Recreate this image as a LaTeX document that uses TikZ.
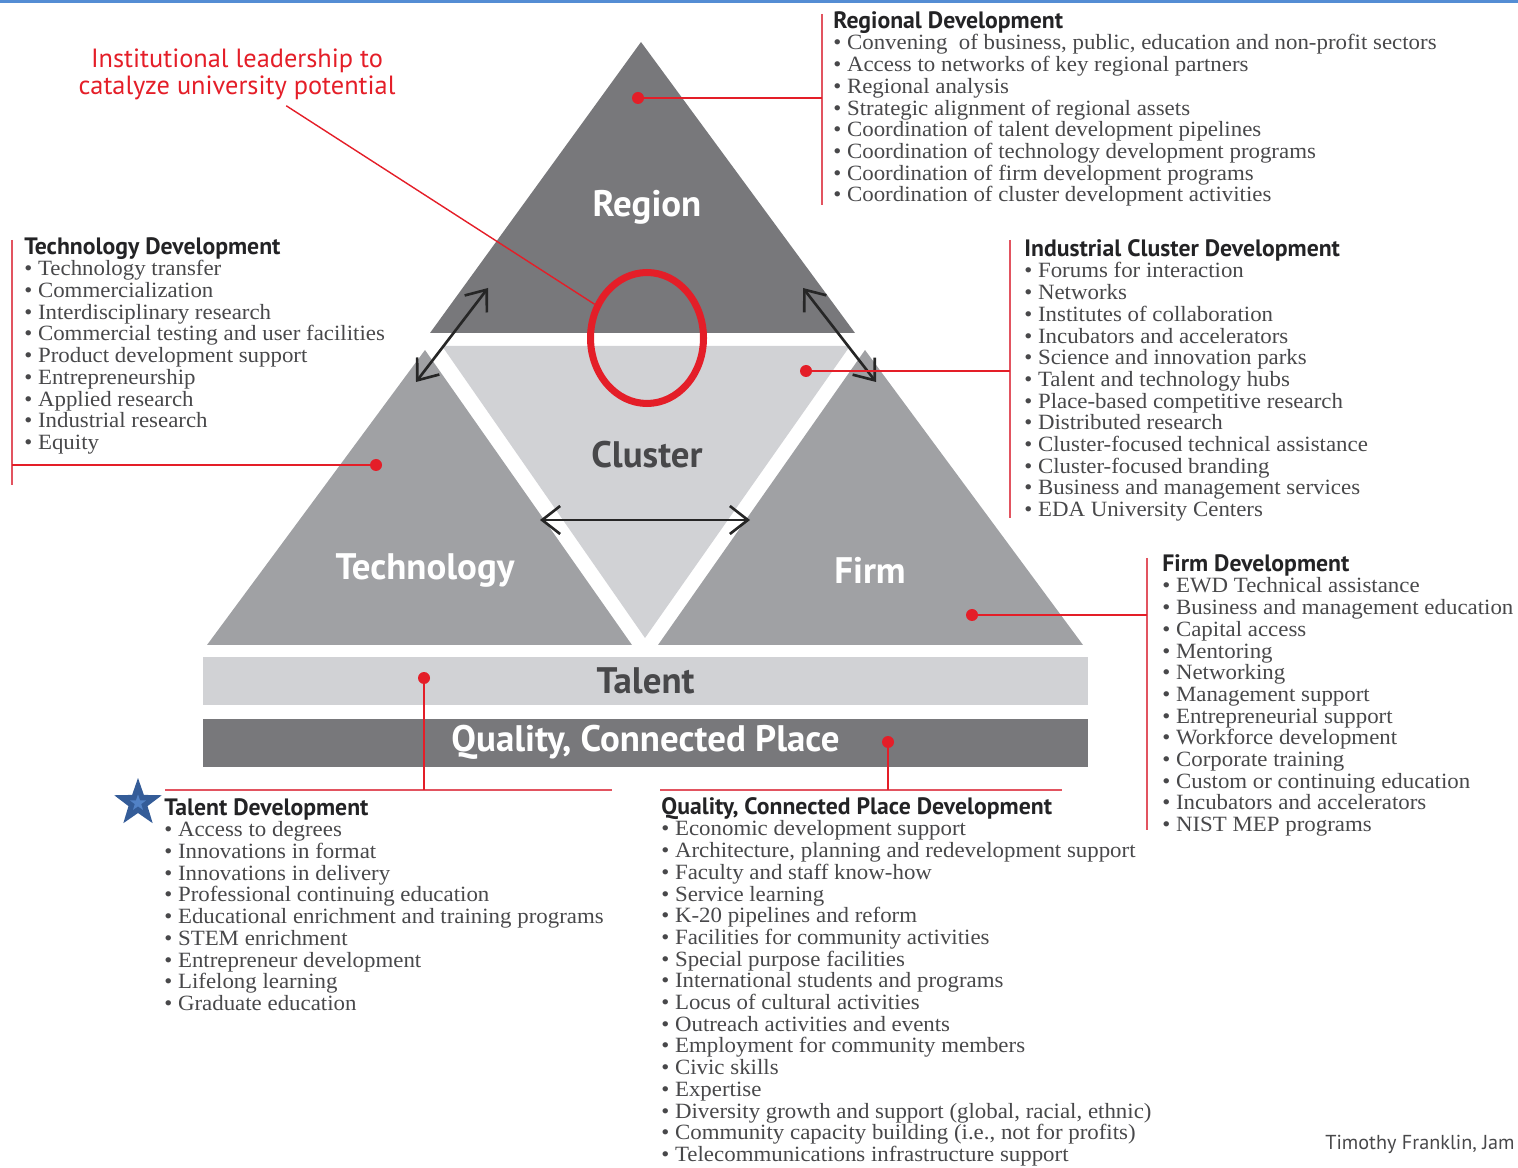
\documentclass[tikz,border=0pt]{standalone}
\usepackage{fontspec}
\setmainfont{Liberation Serif}[FakeStretch=1.05]
\newfontfamily\headfont{PT Sans}
\usetikzlibrary{arrows.meta,positioning,calc,shapes.geometric}
\definecolor{tdblue}{RGB}{84,141,212}
\definecolor{tdred}{RGB}{228,30,40}
\definecolor{tdpink}{RGB}{226,84,96}
\definecolor{tddark}{RGB}{120,120,123}
\definecolor{tdmid}{RGB}{160,161,164}
\definecolor{tdlight}{RGB}{209,210,213}
\definecolor{tdtext}{RGB}{72,72,74}
\definecolor{tdhead}{RGB}{35,35,37}
\definecolor{tdstar}{RGB}{52,92,152}
\definecolor{tdstarhi}{RGB}{82,130,198}
\newcommand{\tdhd}[1]{{\headfont\bfseries\fontsize{13.5}{12.35}\selectfont\color{tdhead}#1}}
\newcommand{\tdit}{\textbullet\ }
\tikzset{
  tdlist/.style={
    anchor=north west,
    align=left,
    inner sep=0pt,
    text=tdtext,
    font=\fontsize{12.4}{12.35}\selectfont
  },
  tdlabel/.style={font=\headfont\bfseries\fontsize{21}{24}\selectfont, inner sep=0pt},
  tdband/.style={minimum width=17.7cm, minimum height=0.96cm, inner sep=0pt},
  tddot/.style={circle, fill=tdred, minimum size=0.24cm, inner sep=0pt},
  tdlead/.style={draw=tdred, line width=1pt},
  tdbar/.style={draw=tdpink, line width=1.4pt},
  tdarrow/.style={{Straight Barb[length=3.6mm,width=5.6mm]}-{Straight Barb[length=3.6mm,width=5.6mm]}, line width=1.5pt, draw=black!85},
  tdstarbox/.style={star, star points=5, star point ratio=2.5, inner sep=0pt}
}
\begin{document}
\begin{tikzpicture}[x=0.02cm, y=-0.02cm]
  \useasboundingbox (0,0) rectangle (1518,1168);
  \fill[tdblue] (0,0) rectangle (1518,3);

  % pyramid
  \fill[tddark] (641,42) -- (430,333) -- (855,333) -- cycle;
  \fill[tdlight] (442,346) -- (850,346) -- (645,638) -- cycle;
  \fill[tdmid] (425,350) -- (207,645) -- (632,645) -- cycle;
  \fill[tdmid] (865,350) -- (658,645) -- (1083,645) -- cycle;

  \node[tdlabel, text=white] (region) at (647,207) {Region};
  \node[tdlabel, text=tdtext] (cluster) at (647,455) {Cluster};
  \node[tdlabel, text=white] (tech) at (425,570) {Technology};
  \node[tdlabel, text=white] (firm) at (870,570) {Firm};
  \node[tdband, fill=tdlight, tdlabel, text=tdtext] (talent) at (645.5,681) {Talent};
  \node[tdband, fill=tddark, tdlabel, text=white, below=0.26cm of talent] (place) {Quality, Connected Place};

  \coordinate (rt) at (488,288);
  \coordinate (tr) at (416,382);
  \coordinate (rf) at (803,288);
  \coordinate (fr) at (876,382);
  \coordinate (tc) at (540,520);
  \coordinate (ct) at (750,520);
  \draw[tdarrow] (rt) -- (tr);
  \draw[tdarrow] (rf) -- (fr);
  \draw[tdarrow] (tc) -- (ct);

  % leadership
  \node[draw=tdred, line width=4pt, ellipse, minimum width=2.26cm, minimum height=2.62cm, inner sep=0pt] (hub) at (647,338) {};
  \node[text=tdred, font=\headfont\fontsize{15}{15.4}\selectfont, align=center] (lead) at (237,74) {Institutional leadership to\\catalyze university potential};
  \draw[tdlead, line width=0.8pt] (lead) -- (hub);

  % red taps
  \node[tddot] (regdot) at (638,98) {};
  \node[tddot] (techdot) at (376,465) {};
  \node[tddot] (clusdot) at (806,371) {};
  \node[tddot] (firmdot) at (972,615) {};
  \node[tddot] (taldot) at (424,678) {};
  \node[tddot] (placedot) at (888,742) {};
  \coordinate (regtap) at (822,98);
  \coordinate (techtap) at (12,465);
  \coordinate (clustap) at (1010,371);
  \coordinate (firmtap) at (1147,615);
  \coordinate (taltap) at (424,790);
  \coordinate (placetap) at (888,790);
  \draw[tdbar] (822,14) -- (822,205);
  \draw[tdbar] (12,240) -- (12,485);
  \draw[tdbar] (1010,240) -- (1010,518);
  \draw[tdbar] (1147,558) -- (1147,830);
  \draw[tdbar] (165,790) -- (612,790);
  \draw[tdbar] (660,790) -- (1062,790);
  \draw[tdlead] (regdot) -- (regtap);
  \draw[tdlead] (techdot) -- (techtap);
  \draw[tdlead] (clusdot) -- (clustap);
  \draw[tdlead] (firmdot) -- (firmtap);
  \draw[tdlead] (taldot) -- (taltap);
  \draw[tdlead] (placedot) -- (placetap);

  % lists
  \node[tdlist] (regdev) at (833,11) {\tdhd{Regional Development}\\
    \tdit Convening\ \ of business, public, education and non-profit sectors\\
    \tdit Access to networks of key regional partners\\
    \tdit Regional analysis\\
    \tdit Strategic alignment of regional assets\\
    \tdit Coordination of talent development pipelines\\
    \tdit Coordination of technology development programs\\
    \tdit Coordination of firm development programs\\
    \tdit Coordination of cluster development activities};
  \node[tdlist] (techdev) at (24,237) {\tdhd{Technology Development}\\
    \tdit Technology transfer\\
    \tdit Commercialization\\
    \tdit Interdisciplinary research\\
    \tdit Commercial testing and user facilities\\
    \tdit Product development support\\
    \tdit Entrepreneurship\\
    \tdit Applied research\\
    \tdit Industrial research\\
    \tdit Equity};
  \node[tdlist] (clusdev) at (1024,239) {\tdhd{Industrial Cluster Development}\\
    \tdit Forums for interaction\\
    \tdit Networks\\
    \tdit Institutes of collaboration\\
    \tdit Incubators and accelerators\\
    \tdit Science and innovation parks\\
    \tdit Talent and technology hubs\\
    \tdit Place-based competitive research\\
    \tdit Distributed research\\
    \tdit Cluster-focused technical assistance\\
    \tdit Cluster-focused branding\\
    \tdit Business and management services\\
    \tdit EDA University Centers};
  \node[tdlist] (firmdev) at (1162,554) {\tdhd{Firm Development}\\
    \tdit EWD Technical assistance\\
    \tdit Business and management education\\
    \tdit Capital access\\
    \tdit Mentoring\\
    \tdit Networking\\
    \tdit Management support\\
    \tdit Entrepreneurial support\\
    \tdit Workforce development\\
    \tdit Corporate training\\
    \tdit Custom or continuing education\\
    \tdit Incubators and accelerators\\
    \tdit NIST MEP programs};
  \node[tdlist] (taldev) at (164,798) {\tdhd{Talent Development}\\
    \tdit Access to degrees\\
    \tdit Innovations in format\\
    \tdit Innovations in delivery\\
    \tdit Professional continuing education\\
    \tdit Educational enrichment and training programs\\
    \tdit STEM enrichment\\
    \tdit Entrepreneur development\\
    \tdit Lifelong learning\\
    \tdit Graduate education};
  \node[tdlist] (placedev) at (661,797) {\tdhd{Quality, Connected Place Development}\\
    \tdit Economic development support\\
    \tdit Architecture, planning and redevelopment support\\
    \tdit Faculty and staff know-how\\
    \tdit Service learning\\
    \tdit K-20 pipelines and reform\\
    \tdit Facilities for community activities\\
    \tdit Special purpose facilities\\
    \tdit International students and programs\\
    \tdit Locus of cultural activities\\
    \tdit Outreach activities and events\\
    \tdit Employment for community members\\
    \tdit Civic skills\\
    \tdit Expertise\\
    \tdit Diversity growth and support (global, racial, ethnic)\\
    \tdit Community capacity building (i.e., not for profits)\\
    \tdit Telecommunications infrastructure support};

  \node[tdstarbox, fill=tdstar, minimum size=1cm] (star) at (138,803) {};
  \node[tdstarbox, fill=tdstarhi, minimum size=0.34cm] (starhi) at (star) {};
  \node[anchor=west, inner sep=0pt, text=tdtext, font=\headfont\fontsize{11.5}{12}\selectfont] (credit) at (1325,1144) {Timothy Franklin, Jam};
\end{tikzpicture}
\end{document}
